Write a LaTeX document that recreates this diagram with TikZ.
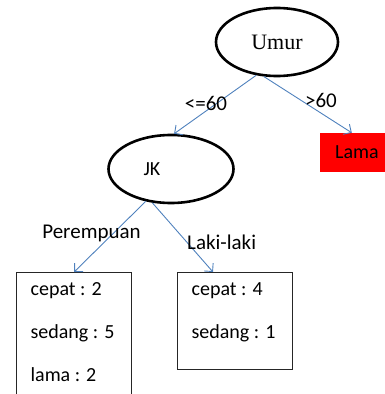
\documentclass[tikz,border=0pt]{standalone}
\usepackage{fontspec}
\setmainfont{Carlito}
\newfontfamily\timesfont{Liberation Serif}
\usetikzlibrary{arrows.meta,shapes.geometric}
\definecolor{edgeblue}{RGB}{79,129,189}
\definecolor{lamared}{RGB}{255,0,0}
\begin{document}
\begin{tikzpicture}[x=1pt,y=-1pt,
  every node/.style={font=\fontsize{20}{24}\selectfont},
  oval/.style={ellipse, draw=black, line width=2.6pt, inner sep=0pt},
  branch/.style={draw=edgeblue, line width=0.9pt, -{Straight Barb[length=6pt,width=12pt]}},
  leaf/.style={rectangle, draw=black!85, line width=1.2pt, anchor=north west,
               inner xsep=14pt, inner ysep=6pt},
  elabel/.style={inner sep=0pt, font=\fontsize{21}{25}\selectfont}]
\useasboundingbox (0,0) rectangle (385,394);
\clip (0,0) rectangle (385,394);

% decision nodes
\node[oval, minimum width=122pt, minimum height=68pt] (umur) at (277,42)
  {\timesfont\fontsize{22}{26}\selectfont Umur};
\node[oval, minimum width=125pt, minimum height=68pt,
      label={[name=jktext, xshift=-19pt]center:JK}] (jk) at (171,169) {};

% leaves
\node[fill=lamared, minimum width=74pt, minimum height=39pt, inner sep=0pt] (lama)
  at (357,152.5) {Lama};
\node[leaf] (lbox) at (16,272)
  {\parbox[c][128pt][t]{87pt}{\fontsize{20}{43}\selectfont
   \rule{0pt}{17pt}cepat : 2\\ sedang : 5\\ lama : 2}};
\node[leaf] (rbox) at (177,272)
  {\parbox[c][85pt][t]{87pt}{\fontsize{20}{43}\selectfont
   \rule{0pt}{17pt}cepat : 4\\ sedang : 1}};

% branches
\draw[branch] (umur.238) -- (jk.85);
\draw[branch] (umur.249) -- ([xshift=32pt]lama.north west);
\draw[branch] (jk.232) -- (lbox.north);
\draw[branch] (jk.241) -- ([xshift=36pt]rbox.north west);

% branch labels
\node[elabel] (le60) at (206,103) {<=60};
\node[elabel] (gt60) at (321,100) {>60};
\node[elabel] (perem) at (91.5,233) {Perempuan};
\node[elabel, anchor=west] (laki) at (187,242) {Laki-laki};
\end{tikzpicture}
\end{document}
